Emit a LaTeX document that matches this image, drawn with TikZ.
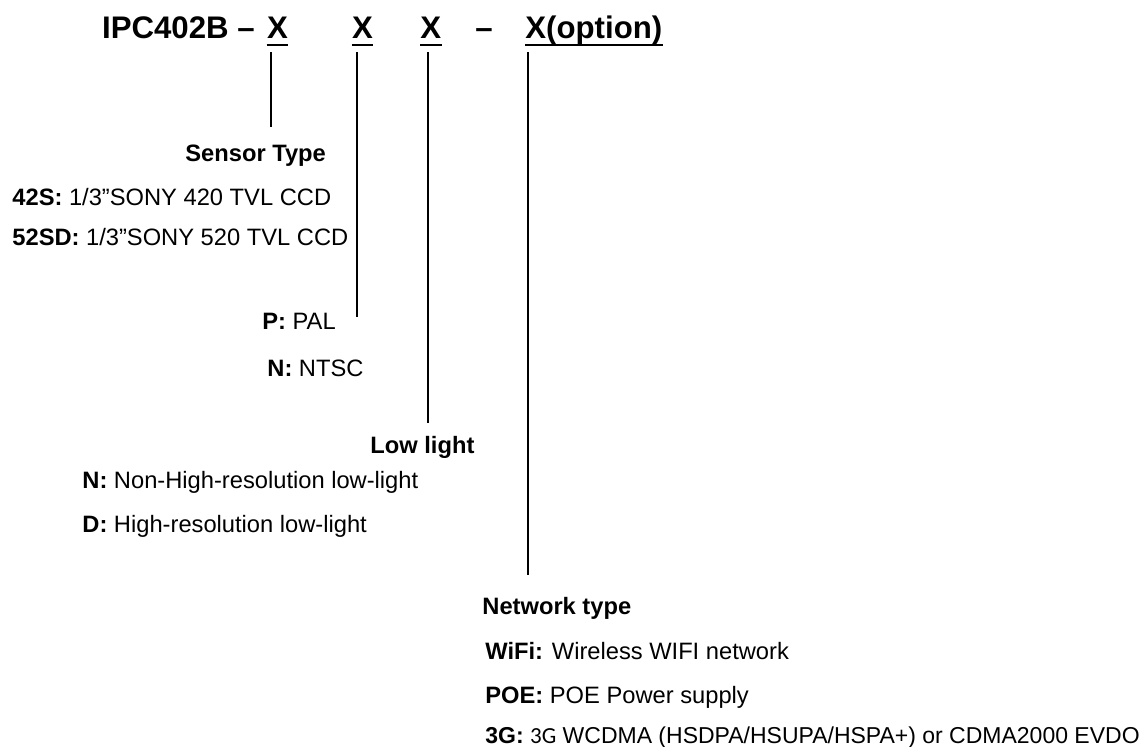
\documentclass[tikz,border=0pt]{standalone}
\usepackage{fontspec}
\setmainfont{Liberation Sans}[BoldFont={Liberation Sans Bold}]
\newfontfamily\narrowfont{Carlito}
\usetikzlibrary{positioning}

\begin{document}
\begin{tikzpicture}[x=0.5pt,y=-0.5pt,
  code/.style={font=\fontsize{15.6}{18}\selectfont\bfseries,inner sep=0pt,anchor=base west},
  entry/.style={font=\fontsize{11.85}{14}\selectfont,inner sep=0pt,anchor=base west},
  stem/.style={line width=0.75pt},
  uline/.style={line width=1pt}]
\useasboundingbox (0,0) rectangle (1146,746);

% Model code
\node[code] (model) at (101.7,38.5) {IPC402B –};
\node[code] (xsensor) at (266.7,38.5) {X};
\node[code] (xsystem) at (351.7,38.5) {X};
\node[code] (xlight) at (420,38.5) {X};
\node[code] (dash) at (475,38.5) {–};
\node[code] (xnet) at (525,38.5) {X(option)};

% Underlines
\foreach \n in {xsensor,xsystem,xlight,xnet}
  \draw[uline] ([yshift=-3pt]\n.base west) -- ([yshift=-3pt]\n.base east);

% Ends of the stems
\coordinate (sensorEnd) at (271,127);
\coordinate (systemEnd) at (357,317);
\coordinate (lightEnd) at (428,423);
\coordinate (netEnd) at (528,575);

% Stems
\draw[stem] ([yshift=-6.75pt]xsensor.base -| sensorEnd) -- (sensorEnd);
\draw[stem] ([yshift=-6.75pt]xsystem.base -| systemEnd) -- (systemEnd);
\draw[stem] ([yshift=-6.75pt]xlight.base -| lightEnd) -- (lightEnd);
\draw[stem] ([yshift=-6.75pt]xnet.base -| netEnd) -- (netEnd);

% Sensor type
\node[entry] (sensor) at (185,161) {\textbf{Sensor Type}};
\node[entry] (s42) at (12,205) {\textbf{42S:} 1/3”SONY 420 TVL CCD};
\node[entry] (s52) at (12,245) {\textbf{52SD:} 1/3”SONY 520 TVL CCD};

% Video system
\node[entry] (pal) at (262,329) {\textbf{P:} PAL};
\node[entry] (ntsc) at (267,376) {\textbf{N:} NTSC};

% Low light
\node[entry] (light) at (370,453) {\textbf{Low light}};
\node[entry] (lnon) at (82,488) {\textbf{N:} Non-High-resolution low-light};
\node[entry] (lhigh) at (82,532) {\textbf{D:} High-resolution low-light};

% Network type
\node[entry] (net) at (482,614) {\textbf{Network type}};
\node[entry] (wifi) at (485,659) {\textbf{WiFi:} Wireless WIFI network};
\node[entry] (poe) at (485,703) {\textbf{POE:} POE Power supply};
\node[entry,font=\fontsize{11.5}{14}\selectfont] (g3) at (485,743) {\textbf{3G:} {\narrowfont 3G} WCDMA (HSDPA/HSUPA/HSPA+) or CDMA2000 EVDO};

\end{tikzpicture}
\end{document}
